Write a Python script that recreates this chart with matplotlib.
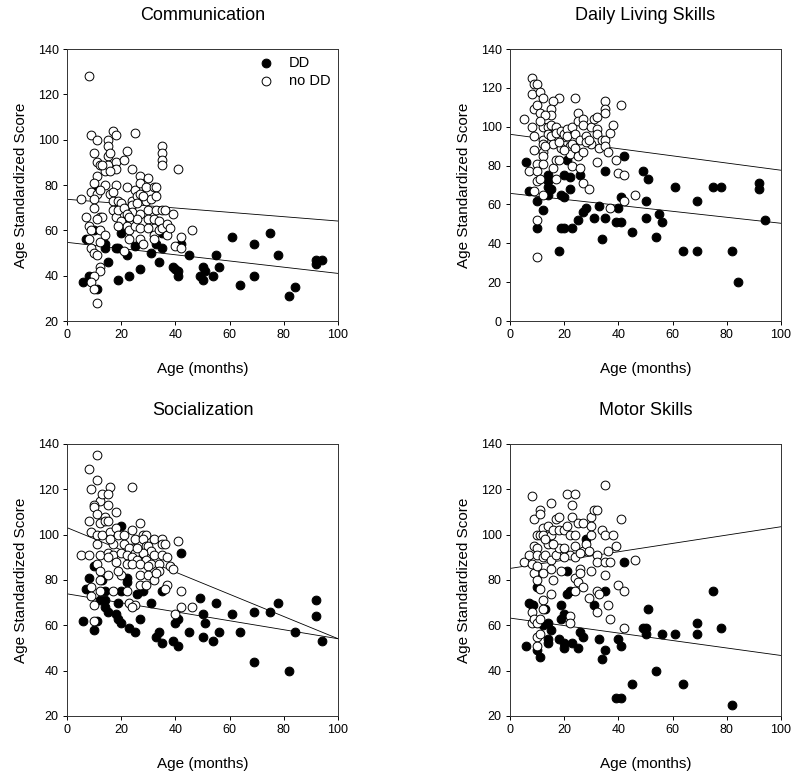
import matplotlib
matplotlib.use("Agg")
import matplotlib.pyplot as plt
import numpy as np

plt.rcParams['font.family'] = ['Liberation Sans', 'DejaVu Sans']

titles = ["Communication", "Daily Living Skills", "Socialization", "Motor Skills"]
x_label = "Age (months)"
y_label = "Age Standardized Score"
legend_labels = ["DD", "no DD"]
x_ticks = [0, 20, 40, 60, 80, 100]
y_limits = [(20, 140), (0, 140), (20, 140), (20, 140)]

# ---------------- Communication ----------------
comm_dd_age = [6, 7, 8, 10, 11, 11, 14, 14, 15, 18, 19, 19, 20, 21, 22, 23, 25, 25, 27, 31, 33, 34, 35, 35,
               39, 40, 41, 41, 42, 45, 49, 50, 50, 51, 54, 55, 56, 61, 64, 69, 69, 75, 78, 82, 84, 92, 92, 94]
comm_dd_score = [37, 56, 40, 60, 78, 34, 52, 54, 46, 52, 38, 52, 59, 64, 49, 40, 53, 66, 43, 50, 54, 46, 52, 59,
                 44, 43, 42, 40, 54, 49, 40, 44, 38, 42, 40, 49, 44, 57, 36, 54, 40, 59, 49, 31, 35, 47, 45, 47]
comm_no_age = [5, 8, 7, 8, 9, 8, 9, 9, 11, 10, 11, 12, 11, 10, 9, 11, 10, 10, 12, 13, 11, 12, 12, 10, 11, 12,
               12, 10, 9, 10, 11, 14, 14, 15, 15, 15, 15, 16, 17, 18, 18, 18, 18, 16, 17, 17, 17, 18, 19, 20,
               19, 20, 21, 22, 22, 21, 22, 23, 23, 24, 24, 24, 24, 25, 25, 25, 26, 26, 27, 27, 27, 27, 27, 27,
               28, 29, 29, 30, 30, 30, 31, 32, 32, 32, 32, 32, 33, 33, 33, 34, 34, 35, 35, 35, 35, 35, 35, 36,
               37, 37, 38, 39, 40, 41, 42, 42, 46, 13, 16, 21, 22, 28, 26, 30, 12, 14, 19, 23]
comm_no_score = [74, 128, 66, 62, 60, 56, 52, 102, 100, 94, 90, 89, 84, 81, 77, 76, 74, 70, 66, 66, 65, 60,
                 55, 50, 49, 44, 42, 40, 37, 34, 28, 86, 80, 100, 97, 93, 89, 94, 104, 102, 90, 87, 80, 76,
                 77, 73, 69, 66, 73, 72, 69, 64, 91, 95, 79, 51, 62, 60, 56, 87, 73, 71, 68, 78, 103, 62, 75,
                 72, 84, 81, 76, 67, 61, 56, 54, 79, 73, 83, 69, 65, 74, 79, 65, 61, 58, 56, 79, 75, 69, 64,
                 60, 97, 94, 91, 89, 69, 61, 69, 63, 58, 61, 67, 53, 87, 57, 52, 60, 89, 86, 70, 67, 75, 65,
                 61, 78, 58, 62, 66]
comm_line_dd = [54.7, 41.0]
comm_line_no = [73.7, 64.1]

# ---------------- Daily Living Skills ----------------
dls_dd_age = [6, 7, 10, 10, 12, 14, 14, 14, 14, 15, 18, 19, 19, 20, 20, 20, 21, 22, 22, 23, 25, 26, 27, 28,
              31, 33, 34, 35, 35, 39, 40, 41, 41, 42, 45, 49, 50, 50, 51, 54, 55, 56, 61, 64, 69, 69, 75, 78,
              82, 84, 92, 92, 94]
dls_dd_score = [82, 67, 62, 48, 57, 75, 72, 69, 65, 68, 36, 65, 48, 75, 64, 48, 83, 74, 68, 48, 52, 75, 56, 58,
                53, 59, 42, 77, 53, 51, 58, 64, 51, 85, 46, 77, 62, 53, 73, 43, 55, 51, 69, 36, 62, 36, 69, 69,
                36, 20, 71, 68, 52]
dls_no_age = [5, 8, 9, 10, 8, 11, 12, 18, 16, 24, 9, 10, 11, 15, 15, 13, 8, 12, 11, 14, 15, 17, 9, 12, 14, 15,
              12, 16, 9, 12, 12, 10, 12, 16, 17, 18, 17, 7, 10, 10, 11, 9, 12, 10, 10, 17, 19, 20, 19, 21, 21,
              22, 23, 23, 22, 23, 24, 24, 25, 25, 25, 26, 26, 27, 27, 27, 27, 28, 29, 30, 31, 30, 32, 32, 32,
              32, 33, 34, 35, 35, 35, 35, 35, 36, 37, 38, 39, 41, 40, 42, 42, 37, 46, 13, 18, 28, 29, 20]
dls_no_score = [104, 125, 122, 122, 117, 118, 115, 115, 113, 115, 109, 111, 107, 109, 106, 106, 100, 100, 103,
                100, 101, 100, 95, 93, 96, 95, 91, 91, 88, 87, 85, 81, 81, 79, 83, 83, 73, 77, 77, 72, 73, 67,
                65, 52, 33, 97, 98, 96, 89, 99, 95, 90, 100, 91, 86, 80, 96, 89, 107, 103, 85, 93, 79, 104, 101,
                87, 71, 95, 68, 100, 104, 91, 105, 99, 96, 82, 89, 93, 113, 109, 107, 93, 90, 87, 97, 101, 83,
                111, 76, 75, 62, 58, 65, 90, 92, 92, 93, 88]
dls_line_dd = [65.7, 50.3]
dls_line_no = [96.1, 77.6]

# ---------------- Socialization ----------------
soc_dd_age = [6, 7, 8, 10, 10, 11, 12, 13, 14, 14, 14, 15, 19, 18, 19, 20, 20, 20, 22, 22, 23, 25, 26, 27, 28,
              31, 33, 34, 35, 35, 39, 40, 41, 41, 42, 45, 49, 50, 50, 51, 54, 55, 56, 61, 64, 69, 69, 75, 78,
              82, 84, 92, 92, 94]
soc_dd_score = [62, 76, 81, 86, 58, 62, 71, 80, 75, 71, 68, 66, 70, 65, 63, 61, 75, 104, 81, 79, 59, 57, 74, 63,
                75, 70, 55, 57, 52, 75, 53, 61, 63, 51, 92, 57, 72, 65, 55, 61, 53, 70, 57, 65, 57, 66, 44, 66,
                70, 40, 57, 71, 64, 53]
soc_no_age = [5, 8, 11, 11, 9, 12, 13, 16, 15, 24, 10, 10, 15, 18, 8, 11, 12, 14, 14, 15, 9, 11, 13, 16, 18, 19,
              21, 24, 27, 25, 28, 29, 28, 32, 35, 11, 17, 21, 24, 23, 29, 30, 31, 35, 36, 41, 8, 12, 15, 17, 20,
              22, 25, 28, 32, 35, 15, 24, 26, 29, 37, 18, 11, 22, 24, 27, 31, 34, 38, 39, 30, 34, 12, 15, 20, 27,
              30, 12, 32, 27, 29, 37, 9, 12, 17, 22, 36, 42, 9, 23, 25, 24, 10, 42, 46, 40, 10, 19, 26, 33, 16]
soc_no_score = [91, 129, 135, 124, 120, 115, 118, 121, 118, 121, 113, 112, 113, 110, 106, 109, 105, 108, 106,
                106, 101, 100, 100, 101, 103, 100, 100, 102, 105, 98, 100, 100, 98, 98, 98, 96, 96, 96, 94, 94,
                95, 95, 93, 96, 96, 97, 91, 91, 92, 91, 92, 91, 92, 92, 91, 91, 90, 90, 89, 89, 90, 88, 87, 87,
                87, 87, 87, 87, 86, 85, 86, 84, 84, 82, 82, 82, 82, 80, 80, 78, 78, 78, 77, 75, 75, 75, 76, 75,
                73, 70, 69, 68, 69, 68, 68, 65, 62, 84, 94, 83, 98]
soc_line_dd = [73.9, 54.1]
soc_line_no = [103.1, 54.1]

# ---------------- Motor Skills ----------------
mot_dd_age = [6, 7, 8, 8.5, 10, 10, 11, 12, 13, 14, 14, 14, 15, 18, 19, 19, 20, 20, 20, 21, 22, 21, 23, 25, 26,
              27, 28, 31, 33, 34, 35, 35, 39, 41, 40, 41, 42, 45, 49, 50, 50, 51, 54, 56, 61, 64, 69, 69, 75,
              78, 82]
mot_dd_score = [51, 70, 69, 69, 77, 49, 46, 60, 67, 61, 54, 52, 58, 54, 69, 63, 65, 50, 52, 74, 75, 84, 52, 50,
                57, 55, 98, 69, 54, 45, 49, 75, 28, 28, 54, 51, 88, 34, 59, 59, 56, 67, 40, 56, 56, 34, 61, 56,
                75, 59, 25]
mot_no_age = [5, 7, 8, 9, 8, 9, 10, 10, 10, 9, 10, 11, 11, 11, 12, 12, 12, 12, 12, 13, 14, 14, 15, 15, 15, 15,
              15, 16, 16, 17, 17, 18, 18, 18, 19, 20, 20, 21, 21, 22, 22, 23, 23, 24, 24, 24, 24, 24, 24, 25,
              25, 26, 26, 27, 27, 27, 28, 29, 29, 30, 30, 30, 30, 31, 32, 32, 32, 32, 32, 33, 34, 35, 35, 35,
              35, 36, 36, 37, 37, 38, 39, 40, 41, 42, 42, 46, 8, 8, 9, 10, 10, 10, 11, 11, 10, 11, 12, 22, 22,
              13, 16, 20, 26]
mot_no_score = [88, 91, 117, 107, 87, 95, 100, 94, 91, 83, 86, 111, 109, 100, 103, 100, 90, 83, 71, 91, 104, 96,
                114, 100, 89, 85, 74, 102, 80, 107, 91, 108, 102, 94, 84, 102, 94, 118, 104, 100, 91, 113, 108,
                118, 100, 95, 90, 81, 75, 105, 79, 85, 83, 105, 93, 77, 96, 93, 72, 108, 104, 100, 84, 111, 111,
                91, 88, 75, 66, 74, 102, 122, 100, 88, 82, 93, 69, 88, 63, 100, 95, 78, 107, 75, 59, 89, 66, 61,
                63, 61, 55, 51, 56, 63, 80, 76, 67, 64, 61, 98, 96, 90, 92]
mot_line_dd = [63.2, 46.7]
mot_line_no = [85.1, 103.5]

panels = [
    (comm_dd_age, comm_dd_score, comm_no_age, comm_no_score, comm_line_dd, comm_line_no),
    (dls_dd_age, dls_dd_score, dls_no_age, dls_no_score, dls_line_dd, dls_line_no),
    (soc_dd_age, soc_dd_score, soc_no_age, soc_no_score, soc_line_dd, soc_line_no),
    (mot_dd_age, mot_dd_score, mot_no_age, mot_no_score, mot_line_dd, mot_line_no),
]

W, H = 800, 778
fig = plt.figure(figsize=(W / 100, H / 100), dpi=100)
boxes = [(67, 49), (510, 49), (67, 444), (510, 444)]
aw, ah = 271, 272

for i, (box, data) in enumerate(zip(boxes, panels)):
    l, t = box
    ax = fig.add_axes([l / W, 1 - (t + ah) / H, aw / W, ah / H])
    dd_x, dd_y, no_x, no_y, ldd, lno = data
    ax.scatter(dd_x, dd_y, s=40, facecolor='black', edgecolor='black', linewidths=0.7,
               label=legend_labels[0], zorder=3)
    ax.scatter(no_x, no_y, s=40, facecolor='white', edgecolor='black', linewidths=0.7,
               label=legend_labels[1], zorder=3)
    ax.plot([x_ticks[0], x_ticks[-1]], ldd, color='black', lw=0.6, zorder=2)
    ax.plot([x_ticks[0], x_ticks[-1]], lno, color='black', lw=0.6, zorder=2)
    ax.set_xlim(x_ticks[0], x_ticks[-1])
    lo, hi = y_limits[i]
    ax.set_ylim(lo, hi)
    ax.set_xticks(x_ticks)
    ax.set_yticks(np.arange(lo, hi + 1, 20))
    ax.tick_params(direction='out', length=3, width=0.7, labelsize=9, pad=3)
    for sp in ax.spines.values():
        sp.set_linewidth(0.7)
        sp.set_color('#333333')
    ax.set_title(titles[i], fontsize=13, pad=21)
    ax.set_xlabel(x_label, fontsize=11, labelpad=15)
    ax.set_ylabel(y_label, fontsize=11, labelpad=7)
    if i == 0:
        ax.legend(loc='upper right', frameon=False, fontsize=10.5, handletextpad=0.6,
                  borderaxespad=0.1, labelspacing=0.25, markerscale=1.0)

fig.savefig("out.png", dpi=100)
